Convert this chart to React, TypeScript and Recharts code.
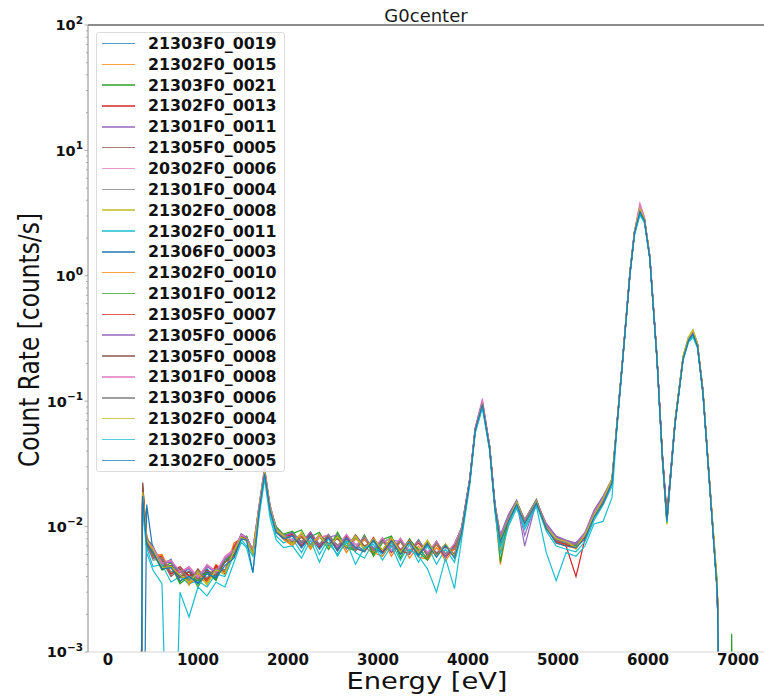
import React from 'react';
import { LineChart, Line, XAxis, YAxis, ReferenceLine } from 'recharts';

// energy grid [eV] shared by every run
const energies = [
  355, 385, 430, 500, 600, 700, 800, 900, 1000, 1100, 1200, 1300, 1400, 1480, 1540, 1610, 1680, 1740, 1800, 1870, 1950,
  2050, 2150, 2250, 2350, 2450, 2550, 2650, 2750, 2850, 2950, 3050, 3150, 3250, 3350, 3450, 3550, 3650, 3750, 3850,
  3930, 4020, 4080, 4160, 4240, 4300, 4360, 4450, 4540, 4630, 4760, 4870, 4980, 5090, 5200, 5300, 5400, 5500, 5600,
  5650, 5720, 5800, 5850, 5910, 5960, 6020, 6100, 6160, 6210, 6300, 6390, 6450, 6500, 6550, 6610, 6690, 6770, 6830, 6900, 6930, 6960,
];

// count rates, in units of 1e-4 counts/s (0 = no counts, below the plot floor)
const run21303F0_0019 = [
  0, 170, 80, 70, 48, 55, 39, 47, 35, 46, 38, 55, 60, 86, 76, 60, 138, 268, 150, 95, 84,
  90, 68, 86, 70, 84, 66, 82, 72, 64, 80, 62, 78, 66, 74, 60, 72, 58, 70, 60,
  92, 240, 600, 940, 440, 150, 80, 118, 150, 115, 158, 98, 76, 70, 75, 82, 120, 170, 220,
  600, 2250, 10800, 22500, 33500, 28500, 14000, 2150, 350, 118, 690, 2250, 3150, 3450, 2750, 1150, 190, 30, 0, 0, 0, 0,
];
const run21302F0_0015 = [
  0, 210, 85, 58, 60, 42, 47, 34, 45, 36, 50, 44, 74, 80, 82, 66, 145, 285, 138, 90, 80,
  72, 88, 66, 84, 68, 82, 62, 80, 70, 60, 79, 58, 76, 56, 70, 54, 68, 57, 69,
  90, 230, 580, 980, 420, 140, 62, 112, 160, 105, 162, 104, 80, 72, 68, 88, 128, 155, 235,
  580, 2180, 10400, 21800, 34000, 28200, 14300, 2250, 370, 112, 660, 2180, 3080, 3600, 2850, 1220, 200, 33, 0, 0, 0, 0,
];
const run21303F0_0021 = [
  0, 180, 72, 66, 46, 52, 36, 44, 33, 44, 37, 56, 58, 80, 84, 61, 136, 280, 142, 100, 86,
  88, 94, 70, 84, 66, 90, 68, 64, 84, 58, 74, 82, 60, 78, 66, 56, 72, 58, 70,
  98, 238, 595, 970, 435, 146, 70, 120, 158, 112, 165, 96, 82, 76, 70, 86, 122, 162, 225,
  595, 2210, 10600, 22200, 33800, 28400, 14200, 2210, 355, 108, 675, 2230, 3130, 3560, 2830, 1190, 198, 32, 0, 0, 14, 0,
];
const run21302F0_0013 = [
  0, 200, 70, 56, 58, 43, 48, 40, 43, 36, 49, 42, 70, 84, 79, 64, 142, 270, 145, 93, 80,
  84, 70, 88, 72, 82, 66, 80, 68, 82, 64, 78, 62, 77, 64, 74, 60, 72, 58, 66,
  94, 232, 585, 965, 428, 142, 78, 110, 152, 108, 155, 102, 74, 70, 40, 80, 126, 158, 232,
  585, 2190, 10450, 21900, 32800, 27800, 14000, 2180, 365, 110, 665, 2190, 3090, 3480, 2790, 1210, 194, 31, 0, 0, 0, 0,
];
const run21301F0_0011 = [
  0, 165, 78, 68, 52, 54, 41, 48, 38, 48, 43, 56, 64, 88, 82, 65, 148, 290, 146, 96, 85,
  86, 76, 90, 72, 82, 86, 70, 84, 66, 80, 64, 78, 76, 64, 78, 62, 74, 60, 72,
  100, 245, 610, 990, 445, 152, 86, 125, 162, 70, 158, 106, 84, 78, 74, 90, 135, 175, 240,
  610, 2260, 10900, 22600, 35500, 29000, 14500, 2260, 372, 120, 690, 2270, 3180, 3620, 2880, 1230, 199, 32, 0, 0, 0, 0,
];
const run21305F0_0005 = [
  0, 225, 82, 60, 54, 40, 46, 36, 46, 37, 48, 45, 66, 83, 80, 62, 140, 275, 140, 90, 83,
  76, 84, 72, 86, 70, 81, 74, 68, 80, 66, 78, 70, 64, 76, 62, 73, 61, 71, 59,
  96, 236, 588, 955, 432, 145, 84, 114, 154, 111, 160, 100, 78, 75, 73, 84, 124, 158, 228,
  588, 2200, 10500, 22000, 33000, 28000, 14100, 2200, 380, 128, 672, 2200, 3100, 3500, 2800, 1200, 196, 31, 0, 0, 0, 0,
];
const run20302F0_0006 = [
  0, 185, 76, 66, 50, 53, 43, 48, 40, 49, 42, 58, 66, 85, 80, 66, 150, 295, 148, 96, 84,
  88, 74, 86, 72, 84, 70, 85, 72, 78, 68, 76, 80, 66, 76, 64, 74, 62, 72, 60,
  97, 240, 612, 1050, 440, 148, 85, 116, 158, 114, 163, 101, 80, 76, 72, 86, 130, 165, 235,
  600, 2240, 10700, 22700, 38000, 29500, 14400, 2230, 365, 116, 680, 2240, 3160, 3580, 2840, 1210, 197, 31, 0, 0, 0, 0,
];
const run21301F0_0004 = [
  0, 175, 74, 54, 55, 42, 46, 37, 44, 39, 47, 44, 66, 80, 79, 63, 138, 272, 139, 91, 81,
  74, 88, 70, 84, 68, 84, 66, 82, 66, 80, 64, 79, 63, 76, 61, 75, 60, 72, 58,
  93, 234, 588, 958, 428, 143, 82, 114, 154, 109, 159, 99, 77, 73, 71, 84, 124, 159, 229,
  588, 2195, 10480, 21950, 32950, 27950, 14080, 2195, 358, 114, 668, 2195, 3095, 3495, 2795, 1198, 194, 31, 0, 0, 0, 0,
];
const run21302F0_0008 = [
  0, 190, 79, 68, 48, 47, 41, 35, 44, 34, 46, 41, 62, 81, 77, 60, 143, 278, 143, 94, 86,
  72, 90, 68, 86, 66, 84, 70, 84, 64, 80, 64, 82, 62, 76, 62, 78, 58, 72, 57,
  91, 228, 575, 945, 425, 141, 76, 113, 157, 104, 156, 97, 81, 77, 66, 87, 121, 168, 242,
  610, 2230, 10650, 22300, 34800, 28600, 14200, 2230, 340, 104, 700, 2300, 3250, 3700, 2900, 1240, 205, 36, 0, 0, 0, 0,
];
const run21302F0_0011 = [
  0, 160, 68, 48, 50, 36, 40, 35, 37, 33, 42, 40, 60, 79, 70, 58, 128, 255, 128, 84, 74,
  80, 62, 84, 60, 80, 58, 78, 62, 56, 76, 58, 74, 54, 72, 52, 70, 50, 66, 52,
  86, 225, 570, 900, 415, 136, 68, 105, 145, 100, 150, 92, 70, 66, 63, 76, 112, 148, 210,
  570, 2150, 10300, 21500, 31000, 27000, 13800, 2150, 350, 112, 650, 2150, 3000, 3300, 2700, 1170, 190, 30, 0, 0, 0, 0,
];
const run21306F0_0003 = [
  0, 0, 150, 64, 47, 49, 40, 44, 35, 44, 40, 52, 60, 82, 81, 62, 140, 272, 138, 92, 81,
  86, 68, 88, 70, 84, 66, 82, 64, 82, 67, 62, 80, 64, 77, 60, 75, 60, 72, 57,
  95, 236, 592, 962, 433, 145, 80, 116, 155, 110, 161, 100, 79, 74, 72, 85, 125, 160, 231,
  592, 2205, 10520, 22050, 33100, 28050, 14120, 2205, 362, 116, 672, 2205, 3105, 3505, 2805, 1205, 196, 31, 0, 0, 0, 0,
];
const run21302F0_0010 = [
  0, 205, 84, 60, 59, 43, 45, 35, 39, 36, 46, 44, 68, 81, 78, 64, 144, 282, 141, 92, 79,
  70, 86, 66, 82, 84, 64, 80, 65, 80, 62, 58, 77, 61, 75, 57, 55, 73, 53, 68,
  89, 229, 580, 972, 424, 140, 50, 111, 157, 107, 158, 103, 75, 70, 67, 84, 127, 157, 233,
  582, 2185, 10420, 21850, 33600, 28100, 14250, 2240, 368, 113, 662, 2185, 3085, 3560, 2830, 1215, 199, 32, 0, 0, 0, 0,
];
const run21301F0_0012 = [
  0, 185, 73, 62, 45, 49, 35, 40, 37, 43, 38, 54, 59, 82, 83, 62, 139, 276, 144, 98, 87,
  92, 74, 83, 90, 66, 85, 70, 65, 86, 60, 79, 84, 56, 80, 63, 54, 76, 58, 73,
  97, 237, 593, 968, 437, 147, 52, 119, 160, 113, 163, 95, 81, 75, 71, 85, 121, 161, 226,
  593, 2215, 10580, 22150, 33700, 28350, 14180, 2215, 358, 110, 673, 2225, 3125, 3550, 2820, 1195, 197, 32, 0, 0, 0, 0,
];
const run21305F0_0007 = [
  0, 195, 77, 57, 56, 42, 46, 41, 42, 38, 48, 43, 68, 83, 80, 63, 141, 273, 142, 94, 82,
  87, 70, 90, 68, 86, 64, 84, 67, 63, 82, 62, 80, 65, 60, 78, 58, 75, 56, 71,
  93, 233, 587, 963, 430, 143, 80, 112, 153, 109, 157, 101, 76, 72, 68, 83, 127, 159, 230,
  587, 2195, 10470, 21950, 33100, 28000, 14050, 2190, 363, 111, 667, 2195, 3095, 3495, 2795, 1205, 195, 31, 0, 0, 0, 0,
];
const run21305F0_0006 = [
  0, 170, 79, 68, 51, 52, 43, 46, 39, 48, 43, 55, 63, 87, 81, 64, 147, 288, 146, 95, 84,
  89, 72, 91, 71, 87, 68, 86, 67, 83, 65, 81, 63, 80, 61, 78, 60, 77, 57, 73,
  98, 243, 605, 985, 442, 150, 85, 123, 160, 85, 156, 104, 83, 77, 73, 88, 132, 170, 238,
  605, 2250, 10800, 22500, 35000, 28800, 14400, 2250, 370, 118, 686, 2260, 3170, 3600, 2870, 1225, 198, 32, 0, 0, 0, 0,
];
const run21305F0_0008 = [
  0, 220, 80, 66, 47, 49, 39, 44, 38, 45, 41, 52, 58, 82, 80, 63, 141, 274, 141, 91, 82,
  74, 82, 70, 87, 73, 80, 68, 86, 70, 77, 65, 81, 64, 79, 62, 76, 61, 69, 60,
  95, 235, 590, 960, 431, 144, 83, 115, 155, 110, 160, 100, 78, 74, 72, 85, 125, 160, 230,
  590, 2200, 10500, 22000, 33000, 28000, 14100, 2200, 375, 125, 670, 2200, 3100, 3500, 2800, 1200, 195, 31, 0, 0, 0, 0,
];
const run21301F0_0008 = [
  0, 180, 77, 68, 51, 54, 44, 47, 39, 50, 44, 57, 65, 86, 81, 65, 148, 292, 147, 95, 85,
  78, 86, 76, 82, 86, 70, 87, 68, 83, 66, 82, 65, 81, 63, 78, 62, 76, 60, 73,
  96, 239, 606, 1000, 438, 147, 84, 117, 157, 113, 162, 102, 80, 75, 72, 87, 129, 164, 234,
  598, 2235, 10650, 22500, 36000, 29200, 14300, 2225, 362, 115, 678, 2235, 3150, 3570, 2830, 1205, 196, 31, 0, 0, 0, 0,
];
const run21303F0_0006 = [
  0, 178, 75, 56, 56, 43, 47, 38, 43, 39, 46, 45, 66, 81, 79, 63, 139, 273, 140, 92, 82,
  84, 76, 82, 73, 86, 71, 81, 64, 84, 66, 75, 69, 76, 62, 79, 59, 74, 61, 68,
  94, 235, 589, 959, 430, 144, 82, 115, 155, 110, 160, 100, 78, 74, 72, 85, 125, 160, 230,
  589, 2198, 10490, 21980, 32980, 27980, 14090, 2198, 359, 113, 669, 2198, 3098, 3498, 2798, 1199, 195, 31, 0, 0, 0, 0,
];
const run21302F0_0004 = [
  0, 188, 78, 66, 47, 48, 41, 36, 43, 35, 45, 43, 64, 82, 78, 61, 142, 277, 142, 93, 85,
  73, 89, 70, 86, 68, 83, 69, 84, 66, 80, 65, 81, 63, 77, 62, 77, 58, 73, 58,
  92, 230, 578, 950, 427, 142, 78, 114, 156, 106, 157, 98, 80, 76, 68, 86, 123, 166, 238,
  605, 2225, 10620, 22250, 34500, 28500, 14180, 2225, 345, 106, 695, 2290, 3230, 3680, 2880, 1235, 203, 35, 0, 0, 0, 0,
];
const run21302F0_0003 = [
  0, 150, 62, 45, 35, 0, 30, 19, 33, 28, 36, 33, 52, 75, 68, 43, 120, 240, 118, 78, 68,
  70, 56, 78, 52, 74, 60, 76, 50, 68, 72, 54, 70, 48, 66, 58, 46, 30, 56, 32,
  80, 215, 555, 880, 405, 130, 60, 100, 140, 95, 145, 62, 37, 62, 58, 70, 105, 110, 170,
  540, 2100, 10100, 21000, 30500, 26500, 13600, 2100, 340, 108, 640, 2120, 2950, 3250, 2650, 1160, 188, 29, 0, 0, 0, 0,
];
const run21302F0_0005 = [
  0, 175, 72, 62, 46, 47, 37, 40, 35, 42, 39, 49, 56, 80, 78, 43, 135, 265, 136, 90, 80,
  84, 68, 83, 66, 82, 64, 81, 68, 63, 78, 61, 77, 60, 76, 58, 73, 57, 71, 56,
  90, 228, 582, 940, 422, 141, 76, 111, 150, 106, 154, 97, 74, 70, 68, 80, 118, 152, 222,
  582, 2180, 10400, 21800, 32500, 27600, 13900, 2170, 355, 112, 662, 2170, 3060, 3420, 2760, 1180, 192, 30, 0, 0, 0, 0,
];

const seriesNames = [
  '21303F0_0019', '21302F0_0015', '21303F0_0021', '21302F0_0013', '21301F0_0011', '21305F0_0005',
  '20302F0_0006', '21301F0_0004', '21302F0_0008', '21302F0_0011', '21306F0_0003', '21302F0_0010',
  '21301F0_0012', '21305F0_0007', '21305F0_0006', '21305F0_0008', '21301F0_0008', '21303F0_0006',
  '21302F0_0004', '21302F0_0003', '21302F0_0005',
];
const seriesRates = [
  run21303F0_0019, run21302F0_0015, run21303F0_0021, run21302F0_0013, run21301F0_0011, run21305F0_0005,
  run20302F0_0006, run21301F0_0004, run21302F0_0008, run21302F0_0011, run21306F0_0003, run21302F0_0010,
  run21301F0_0012, run21305F0_0007, run21305F0_0006, run21305F0_0008, run21301F0_0008, run21303F0_0006,
  run21302F0_0004, run21302F0_0003, run21302F0_0005,
];

const palette = ['#1f77b4', '#ff7f0e', '#2ca02c', '#d62728', '#9467bd', '#8c564b', '#e377c2', '#7f7f7f', '#bcbd22', '#17becf'];
const xTicks = [0, 1000, 2000, 3000, 4000, 5000, 6000, 7000];
const yDecades = [-3, -2, -1, 0, 1, 2];

const RATE_UNIT = 1e-4;
// a log axis cannot show zero, so empty bins sit far below the floor and get clipped
const EMPTY_BIN = 1e-5;

const yTicks = yDecades.flatMap((d) =>
  d === 2 ? [100] : [1, 2, 3, 4, 5, 6, 7, 8, 9].map((k) => k * Math.pow(10, d))
);

const chartData = energies.map((energy, i) => {
  const row: Record<string, number> = { energy };
  seriesRates.forEach((rates, s) => {
    row[`s${s}`] = rates[i] > 0 ? rates[i] * RATE_UNIT : EMPTY_BIN;
  });
  return row;
});

const FONT = '"DejaVu Sans", sans-serif';

const YTick = ({ y, payload }: { y?: number; payload?: { value: number } }) => {
  const v = payload?.value ?? 1;
  const exp = Math.round(Math.log10(v));
  const isMajor = Math.abs(Math.log10(v) - exp) < 1e-6;
  return (
    <g>
      <line x1={isMajor ? 84.5 : 86} x2={88} y1={y} y2={y} stroke="#9a9a9a" strokeWidth={0.8} />
      {isMajor && (
        <text x={83} y={(y ?? 0) + 5.3} textAnchor="end" fontFamily={FONT} fontWeight="bold" fontSize={14.5} fill="#111">
          10
          <tspan dy={-6.5} fontSize={10.5}>{exp < 0 ? `\u2212${-exp}` : `${exp}`}</tspan>
        </text>
      )}
    </g>
  );
};

const XTick = ({ x, payload }: { x?: number; payload?: { value: number } }) => (
  <g>
    <line x1={x} x2={x} y1={652} y2={655.5} stroke="#bbbbbb" strokeWidth={0.8} />
    <text x={x} y={665} textAnchor="middle" fontFamily={FONT} fontWeight="bold" fontSize={15} fill="#111">
      {payload?.value}
    </text>
  </g>
);

const SeriesLegend = () => (
  <div
    style={{
      position: 'absolute',
      left: 96,
      top: 32,
      width: 189,
      height: 440,
      boxSizing: 'border-box',
      border: '1px solid #dcdcdc',
      borderRadius: 3,
      background: 'rgba(255,255,255,0.8)',
      fontFamily: FONT,
    }}
  >
    {seriesNames.map((name, i) => (
      <div key={name} style={{ display: 'flex', alignItems: 'center', height: 20.85 }}>
        <div style={{ marginLeft: 5, width: 33, height: 1.5, background: palette[i % palette.length], opacity: 0.75 }} />
        <span style={{ marginLeft: 13, fontSize: 15.8, fontWeight: 'bold', color: '#111', whiteSpace: 'nowrap' }}>
          {name}
        </span>
      </div>
    ))}
  </div>
);

export default function App() {
  return (
    <div style={{ position: 'absolute', left: 0, top: 0, width: 764, height: 696, background: '#fff' }}>
      <LineChart width={764} height={696} data={chartData} margin={{ top: 25, right: 0, bottom: 0, left: 0 }}>
        <XAxis
          dataKey="energy"
          type="number"
          domain={[-222, 7289]}
          allowDataOverflow
          ticks={xTicks}
          interval={0}
          height={44}
          tickLine={false}
          axisLine={{ stroke: '#d5d5d5' }}
          tick={(props: any) => <XTick {...props} />}
          label={{
            content: () => (
              <text x={427} y={689} textAnchor="middle" fontFamily={FONT} fontSize={23} fill="#111"
                textLength={161} lengthAdjust="spacingAndGlyphs">
                Energy [eV]
              </text>
            ),
          }}
        />
        <YAxis
          type="number"
          scale="log"
          domain={[0.001, 100]}
          allowDataOverflow
          ticks={yTicks}
          interval={0}
          width={88}
          tickLine={false}
          axisLine={{ stroke: '#8a8a8a' }}
          tick={(props: any) => <YTick {...props} />}
          label={{
            content: () => (
              <text transform="translate(39, 340) rotate(-90)" textAnchor="middle" fontFamily={FONT} fontSize={28}
                fill="#111" textLength={254} lengthAdjust="spacingAndGlyphs">
                Count Rate [counts/s]
              </text>
            ),
          }}
        />
        <ReferenceLine
          y={100}
          stroke="#666"
          strokeWidth={1.3}
          label={{ value: 'G0center', position: 'top', offset: 3, fill: '#1a1a1a', fontSize: 18, fontFamily: FONT }}
        />
        {seriesNames.map((name, i) => (
          <Line
            key={name}
            type="linear"
            dataKey={`s${i}`}
            name={name}
            stroke={palette[i % palette.length]}
            strokeWidth={1.2}
            dot={false}
            activeDot={false}
            isAnimationActive={false}
          />
        ))}
      </LineChart>
      <SeriesLegend />
    </div>
  );
}
